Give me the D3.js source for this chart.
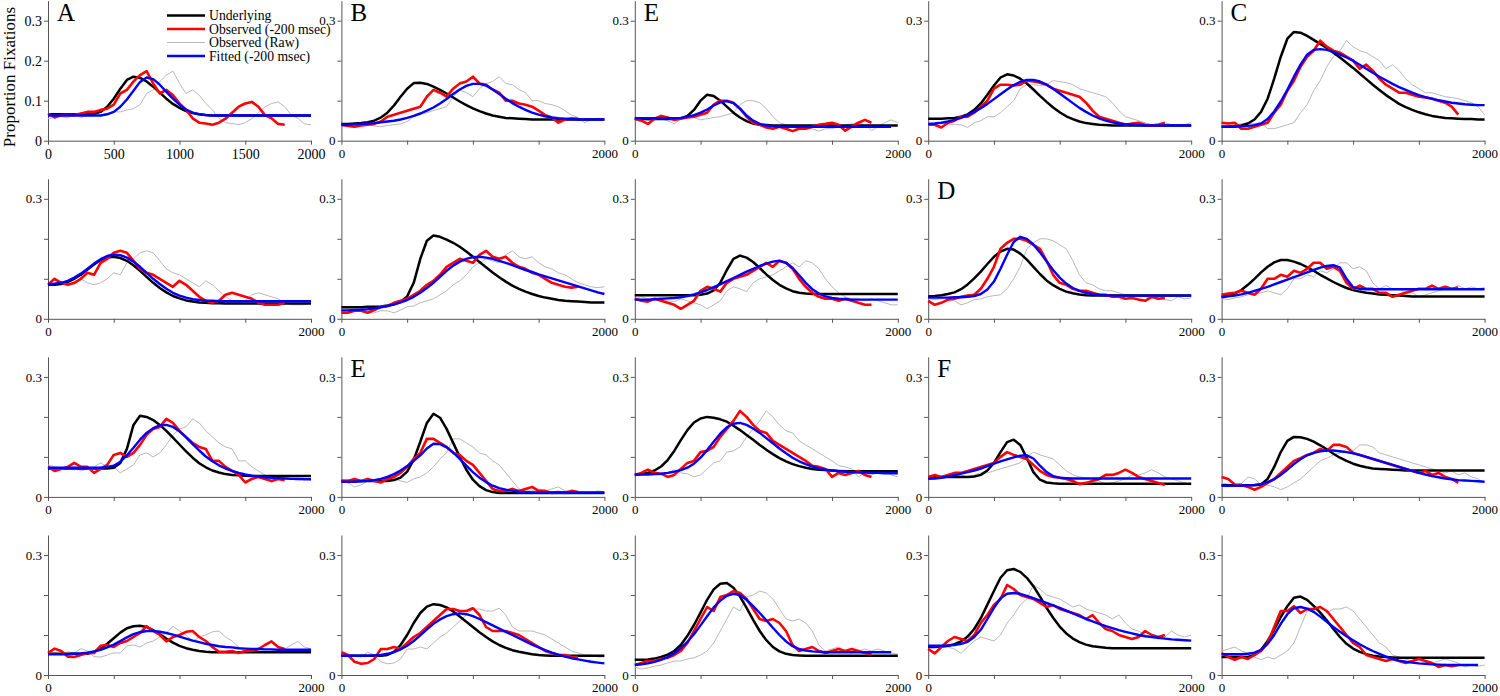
<!DOCTYPE html>
<html><head><meta charset="utf-8">
<script src="https://cdn.jsdelivr.net/npm/d3@7"></script>
<style>body{margin:0;background:#fff}svg{display:block}</style>
</head><body>
<svg id="chart" width="1500" height="696"></svg>
<script>
// ---- data ----
const timeStepMs = 50;        // sampling grid of every series (ms)
const shiftMs = 200;          // "Observed (-200 msec)" = raw shifted left by 200 ms
const xTickValues = [0, 500, 1000, 1500, 2000];
const yTickValues = [0, 0.1, 0.2, 0.3];
const panelLetters = ["A","B","E","","C", "","","","D","", "","E","","F","", "","","","",""];
const legendLabels = ["Underlying","Observed (-200 msec)","Observed (Raw)","Fitted (-200 msec)"];

const underlying = [
[.066,.066,.066,.066,.066,.066,.066,.067,.072,.085,.105,.13,.152,.16,.157,.148,.135,.12,.105,.092,.082,.074,.069,.066,.064,.063,.063,.063,.063,.063,.063,.063,.063,.063,.063,.063,.063,.063,.063,.063,.063],
[.042,.042,.043,.044,.046,.05,.058,.07,.088,.11,.13,.144,.145,.142,.135,.127,.118,.108,.098,.089,.081,.074,.068,.063,.06,.057,.056,.055,.054,.053,.053,.053,.053,.053,.053,.053,.053,.053,.053,.053,.053],
[.054,.054,.054,.054,.054,.054,.054,.056,.062,.077,.1,.115,.112,.1,.085,.07,.058,.049,.043,.04,.039,.038,.038,.038,.038,.038,.038,.038,.038,.038,.038,.038,.038,.038,.038,.038,.038,.038,.038,.038,.038],
[.055,.055,.055,.056,.057,.06,.066,.077,.093,.115,.138,.158,.166,.163,.155,.143,.128,.112,.097,.083,.071,.061,.054,.048,.044,.042,.04,.039,.038,.038,.038,.038,.038,.038,.038,.038,.038,.038,.038,.038,.038],
[.035,.035,.036,.038,.043,.053,.072,.105,.155,.21,.255,.272,.27,.262,.252,.242,.232,.22,.208,.195,.182,.168,.154,.14,.127,.114,.103,.092,.084,.077,.071,.066,.062,.059,.057,.056,.055,.054,.054,.053,.053],
[.085,.085,.087,.092,.1,.11,.123,.136,.147,.153,.155,.152,.145,.134,.12,.105,.09,.077,.066,.057,.051,.046,.043,.041,.04,.039,.039,.038,.038,.038,.038,.038,.038,.038,.038,.038,.038,.038,.038,.038,.038],
[.029,.029,.029,.029,.03,.03,.031,.033,.036,.042,.056,.09,.15,.195,.208,.205,.198,.19,.18,.168,.155,.142,.129,.116,.104,.093,.083,.075,.068,.062,.057,.053,.05,.047,.045,.044,.043,.042,.041,.041,.041],
[.059,.059,.059,.059,.059,.059,.059,.059,.059,.059,.06,.063,.071,.09,.122,.15,.158,.153,.142,.127,.111,.097,.085,.076,.069,.065,.063,.062,.062,.062,.062,.062,.062,.062,.062,.062,.062,.062,.062,.062,.062],
[.056,.057,.059,.062,.066,.074,.086,.101,.118,.137,.155,.168,.175,.173,.163,.148,.13,.112,.096,.084,.075,.068,.064,.061,.059,.058,.058,.058,.058,.058,.058,.058,.058,.058,.058,.058,.058,.058,.058,.058,.058],
[.055,.058,.063,.072,.085,.1,.116,.13,.141,.147,.147,.143,.137,.129,.12,.11,.101,.092,.084,.077,.072,.068,.065,.063,.061,.06,.059,.058,.057,.056,.056,.056,.056,.056,.056,.056,.056,.056,.056,.056,.056],
[.071,.071,.071,.071,.071,.071,.071,.071,.071,.071,.073,.085,.12,.18,.203,.2,.192,.18,.165,.148,.131,.114,.098,.084,.074,.066,.061,.057,.055,.054,.053,.052,.052,.052,.052,.052,.052,.052,.052,.052,.052],
[.04,.04,.04,.04,.04,.04,.04,.04,.042,.048,.063,.093,.138,.185,.208,.198,.17,.135,.1,.068,.043,.027,.017,.012,.01,.01,.01,.01,.01,.01,.01,.01,.01,.01,.01,.01,.01,.01,.01,.01,.01],
[.055,.057,.06,.066,.076,.092,.115,.142,.167,.186,.196,.2,.198,.194,.188,.178,.167,.155,.143,.13,.118,.107,.097,.089,.082,.077,.073,.07,.068,.067,.066,.065,.064,.064,.064,.064,.064,.064,.064,.064,.064],
[.05,.05,.05,.05,.05,.05,.05,.051,.055,.066,.085,.112,.137,.143,.13,.097,.062,.043,.036,.034,.033,.033,.033,.033,.033,.033,.033,.033,.033,.033,.033,.033,.033,.033,.033,.033,.033,.033,.033,.033,.033],
[.029,.029,.029,.029,.029,.029,.031,.045,.075,.112,.14,.15,.149,.145,.138,.129,.119,.108,.098,.09,.083,.078,.074,.071,.07,.069,.068,.067,.066,.066,.066,.066,.066,.066,.066,.066,.066,.066,.066,.066,.066],
[.053,.053,.053,.053,.053,.053,.053,.058,.066,.078,.092,.106,.117,.122,.123,.12,.112,.102,.091,.081,.073,.067,.063,.06,.058,.057,.057,.057,.057,.057,.057,.057,.057,.057,.057,.057,.057,.057,.057,.057,.057],
[.048,.048,.048,.048,.048,.048,.048,.05,.058,.075,.1,.13,.155,.171,.177,.175,.169,.159,.146,.133,.12,.107,.095,.084,.075,.068,.062,.058,.055,.052,.05,.049,.048,.048,.048,.048,.048,.048,.048,.048,.048],
[.038,.038,.039,.041,.045,.051,.06,.075,.098,.125,.156,.188,.214,.228,.23,.218,.196,.168,.138,.11,.087,.07,.059,.053,.05,.049,.048,.048,.048,.048,.048,.048,.048,.048,.048,.048,.048,.048,.048,.048,.048],
[.07,.07,.071,.073,.077,.084,.096,.115,.142,.176,.21,.243,.262,.265,.258,.243,.222,.196,.168,.143,.121,.104,.091,.082,.076,.072,.07,.068,.067,.067,.067,.067,.067,.067,.067,.067,.067,.067,.067,.067,.067],
[.045,.045,.045,.045,.045,.05,.063,.085,.113,.145,.172,.193,.196,.188,.173,.156,.137,.115,.095,.078,.066,.058,.052,.048,.046,.045,.044,.043,.043,.043,.043,.043,.043,.043,.043,.043,.043,.043,.043,.043,.043]
];

const fitted = [
[.063,.063,.063,.063,.063,.063,.063,.063,.063,.066,.072,.085,.103,.125,.147,.158,.154,.14,.122,.105,.09,.078,.07,.066,.064,.063,.063,.063,.063,.063,.063,.063,.063,.063,.063,.063,.063,.063,.063,.063,.063],
[.039,.04,.041,.042,.043,.044,.046,.048,.05,.053,.057,.062,.068,.075,.083,.093,.104,.117,.128,.137,.142,.142,.138,.128,.117,.105,.094,.085,.077,.07,.065,.061,.058,.056,.055,.054,.053,.053,.053,.053,.053],
[.056,.056,.056,.056,.056,.056,.056,.057,.06,.064,.07,.078,.088,.096,.099,.094,.08,.063,.05,.042,.038,.036,.035,.035,.035,.035,.035,.035,.035,.035,.035,.035,.035,.035,.035,.035,.035,.035,.035,.035],
[.042,.043,.045,.048,.052,.057,.064,.072,.081,.092,.104,.116,.128,.139,.147,.152,.152,.148,.14,.13,.118,.106,.094,.082,.072,.063,.056,.05,.046,.043,.041,.04,.039,.038,.038,.038,.038,.038,.038,.038,.038],
[.035,.035,.035,.036,.037,.039,.043,.054,.073,.098,.127,.16,.19,.215,.227,.229,.227,.222,.215,.208,.2,.19,.18,.17,.16,.151,.142,.134,.127,.12,.114,.109,.105,.101,.098,.095,.093,.091,.09,.089,.089],
[.087,.088,.09,.095,.103,.113,.125,.138,.149,.157,.16,.159,.153,.143,.13,.115,.1,.087,.075,.065,.058,.053,.049,.047,.045,.045,.044,.044,.044,.044,.044,.044,.044,.044,.044,.044,.044,.044,.044,.044,.044],
[.021,.021,.022,.023,.024,.026,.029,.032,.036,.041,.047,.055,.065,.077,.09,.105,.12,.133,.143,.15,.154,.155,.153,.15,.145,.14,.134,.128,.122,.117,.111,.106,.101,.096,.091,.086,.081,.076,.071,.066,.062],
[.048,.048,.048,.049,.05,.051,.052,.054,.057,.061,.066,.072,.079,.086,.094,.102,.11,.118,.125,.132,.138,.143,.145,.14,.127,.109,.09,.074,.063,.056,.052,.05,.049,.048,.048,.048,.048,.048,.048,.048,.048],
[.053,.053,.053,.053,.054,.054,.055,.057,.062,.073,.093,.125,.16,.192,.205,.2,.186,.166,.144,.122,.103,.088,.077,.07,.065,.062,.06,.059,.058,.058,.058,.058,.058,.058,.058,.058,.058,.058,.058,.058,.058],
[.054,.056,.058,.061,.065,.07,.075,.08,.086,.092,.098,.104,.11,.116,.122,.128,.132,.134,.128,.1,.079,.075,.074,.074,.074,.074,.074,.074,.074,.074,.074,.074,.074,.074,.074,.074,.074,.074,.074,.074,.074],
[.073,.073,.073,.073,.073,.073,.073,.073,.073,.075,.078,.088,.104,.123,.143,.16,.172,.179,.18,.175,.164,.149,.132,.116,.101,.089,.079,.071,.065,.06,.056,.053,.051,.049,.048,.047,.046,.045,.045,.044,.044],
[.038,.038,.038,.039,.04,.042,.045,.05,.057,.066,.077,.09,.104,.121,.133,.132,.124,.111,.095,.078,.062,.048,.037,.028,.022,.018,.015,.013,.012,.011,.011,.011,.011,.011,.011,.011,.011,.011,.011,.011,.011],
[.056,.056,.056,.057,.058,.06,.063,.067,.073,.083,.098,.117,.138,.158,.174,.183,.185,.18,.171,.16,.147,.134,.121,.109,.098,.089,.082,.076,.071,.068,.066,.064,.063,.062,.061,.061,.06,.06,.059,.059,.059],
[.045,.046,.048,.051,.054,.058,.062,.066,.071,.077,.083,.089,.094,.099,.103,.104,.096,.078,.062,.052,.048,.047,.046,.046,.046,.046,.046,.046,.046,.046,.046,.046,.046,.046,.046,.046,.046,.046,.046,.046,.046],
[.028,.028,.028,.028,.029,.03,.032,.037,.044,.055,.068,.082,.094,.104,.11,.114,.116,.116,.114,.112,.109,.105,.1,.095,.09,.085,.08,.075,.07,.065,.06,.056,.052,.049,.046,.044,.042,.041,.04,.039,.038],
[.052,.052,.052,.052,.053,.054,.056,.059,.063,.069,.076,.085,.094,.102,.107,.11,.11,.108,.105,.101,.096,.091,.086,.082,.078,.075,.072,.07,.069,.067,.066,.065,.065,.064,.064,.063,.063,.063,.063,.063,.063],
[.048,.048,.048,.048,.048,.049,.05,.053,.057,.064,.073,.085,.099,.114,.128,.139,.147,.152,.154,.152,.147,.14,.132,.124,.116,.108,.1,.092,.084,.076,.069,.062,.056,.051,.046,.042,.039,.036,.033,.031,.029],
[.025,.027,.029,.033,.038,.045,.054,.067,.083,.102,.124,.147,.169,.186,.198,.203,.2,.188,.172,.155,.137,.118,.1,.084,.072,.065,.061,.059,.058,.057,.057,.057,.057,.057,.057,.057,.057,.057,.057,.057],
[.073,.073,.073,.074,.075,.078,.083,.095,.113,.14,.168,.192,.203,.205,.203,.198,.192,.186,.18,.174,.168,.161,.154,.147,.14,.134,.128,.122,.117,.112,.108,.104,.1,.097,.095,.093,.091,.089,.088,.087,.086],
[.052,.052,.052,.052,.053,.056,.063,.078,.1,.128,.152,.167,.17,.166,.158,.146,.133,.12,.108,.097,.087,.077,.068,.06,.053,.046,.04,.036,.033,.031,.029,.028,.027,.026,.025,.025,.025,.025,.025,.025]
];

const observedRaw = [
[.055,.058,.06,.057,.068,.058,.064,.065,.064,.068,.072,.072,.077,.08,.09,.118,.127,.148,.164,.174,.143,.118,.127,.114,.093,.077,.056,.045,.043,.04,.045,.055,.07,.085,.093,.097,.085,.064,.056,.042,.04],
[.042,.04,.041,.04,.04,.037,.035,.038,.04,.042,.048,.06,.065,.07,.075,.08,.085,.11,.127,.12,.11,.13,.143,.148,.16,.143,.14,.128,.12,.1,.1,.093,.09,.085,.075,.064,.058,.045,.053,.056,.055],
[.052,.055,.05,.052,.055,.05,.042,.055,.062,.058,.052,.055,.058,.06,.065,.07,.09,.1,.1,.095,.08,.06,.045,.04,.033,.03,.035,.03,.024,.03,.03,.035,.04,.042,.045,.04,.025,.035,.045,.052,.045],
[.042,.04,.045,.04,.04,.04,.033,.045,.05,.06,.06,.07,.085,.1,.13,.14,.14,.138,.14,.15,.148,.145,.14,.13,.125,.12,.115,.11,.095,.075,.06,.055,.05,.045,.04,.043,.045,.04,.038,.04,.045],
[.04,.038,.04,.042,.045,.043,.045,.03,.03,.035,.04,.045,.07,.09,.125,.15,.185,.21,.225,.25,.235,.225,.22,.21,.2,.18,.19,.175,.155,.14,.13,.12,.12,.115,.11,.108,.105,.1,.095,.085,.065],
[.085,.09,.087,.09,.085,.1,.09,.085,.09,.1,.115,.11,.14,.15,.165,.17,.165,.145,.125,.115,.11,.1,.09,.08,.095,.085,.07,.055,.045,.04,.045,.06,.065,.06,.055,.05,.04,.035,.035,.035,.04],
[.028,.026,.028,.03,.015,.015,.02,.02,.015,.022,.03,.032,.04,.045,.05,.06,.07,.085,.095,.11,.13,.14,.15,.145,.14,.16,.17,.155,.15,.155,.14,.13,.125,.115,.11,.1,.09,.085,.08,.078,.08],
[.05,.055,.05,.048,.05,.045,.043,.05,.045,.04,.035,.025,.035,.045,.07,.08,.075,.068,.09,.1,.105,.11,.12,.13,.14,.13,.145,.14,.125,.1,.08,.065,.055,.05,.05,.045,.05,.045,.04,.035,.035],
[.05,.048,.05,.052,.045,.035,.04,.048,.05,.055,.058,.06,.075,.1,.13,.175,.19,.2,.2,.195,.185,.175,.145,.11,.09,.085,.075,.07,.07,.065,.06,.06,.055,.055,.05,.052,.048,.045,.055,.05,.052],
[.05,.048,.052,.055,.06,.063,.065,.07,.065,.06,.075,.1,.1,.11,.105,.12,.115,.125,.14,.14,.125,.13,.12,.09,.075,.083,.075,.075,.065,.065,.055,.06,.065,.07,.075,.075,.083,.075,.08,.075,.078],
[.08,.075,.072,.07,.075,.065,.07,.075,.085,.075,.075,.06,.07,.08,.105,.11,.1,.11,.13,.155,.17,.175,.195,.185,.165,.15,.135,.125,.12,.09,.09,.075,.065,.055,.036,.045,.05,.045,.04,.045,.042],
[.04,.035,.025,.03,.04,.04,.045,.04,.045,.04,.036,.045,.05,.06,.075,.095,.11,.145,.145,.135,.125,.11,.105,.09,.08,.06,.04,.02,.015,.015,.02,.015,.02,.025,.015,.015,.01,.012,.01,.015,.012],
[.058,.06,.057,.056,.055,.06,.068,.06,.058,.05,.055,.07,.085,.09,.112,.115,.125,.15,.17,.19,.215,.2,.18,.165,.16,.14,.13,.12,.11,.1,.09,.078,.075,.07,.05,.06,.055,.06,.065,.055,.05],
[.05,.048,.05,.052,.05,.055,.05,.055,.06,.06,.065,.07,.075,.08,.085,.1,.112,.105,.1,.095,.08,.065,.055,.05,.048,.045,.04,.032,.035,.04,.045,.055,.055,.06,.068,.06,.05,.045,.04,.035,.03],
[.035,.032,.03,.033,.05,.045,.031,.03,.025,.018,.025,.035,.045,.06,.075,.09,.097,.105,.11,.12,.115,.13,.13,.125,.11,.105,.1,.095,.09,.085,.08,.075,.07,.065,.06,.065,.055,.06,.05,.045,.035],
[.052,.055,.05,.058,.055,.066,.06,.046,.045,.05,.055,.055,.073,.075,.07,.08,.085,.095,.105,.122,.11,.1,.084,.095,.1,.108,.11,.095,.085,.07,.058,.058,.06,.055,.06,.06,.065,.075,.084,.07,.065],
[.05,.048,.05,.045,.057,.05,.033,.028,.03,.04,.065,.065,.07,.065,.08,.095,.105,.12,.135,.15,.165,.165,.16,.16,.167,.15,.12,.11,.11,.11,.105,.1,.09,.08,.07,.06,.055,.05,.05,.045,.045],
[.02,.015,.018,.022,.025,.03,.035,.035,.04,.043,.05,.06,.08,.11,.14,.17,.16,.195,.2,.21,.205,.19,.165,.14,.135,.14,.13,.11,.075,.06,.065,.07,.06,.055,.06,.065,.06,.065,.06,.055,.052],
[.07,.072,.068,.07,.065,.054,.07,.085,.095,.09,.085,.1,.13,.15,.175,.19,.225,.215,.2,.195,.19,.18,.17,.175,.165,.16,.155,.15,.14,.15,.13,.115,.11,.1,.095,.09,.095,.11,.1,.095,.1],
[.06,.065,.07,.06,.055,.045,.038,.045,.04,.05,.06,.08,.12,.16,.16,.172,.155,.165,.165,.17,.16,.14,.12,.1,.08,.07,.05,.045,.04,.035,.04,.035,.03,.035,.04,.035,.03,.02,.025,.022,.025]
];

// ---- layout ----
const FONT = "'Liberation Serif','Times New Roman',serif";
const svg = d3.select("#chart");
const W = 263, H = 140;
const left0 = 48, colStep = 293.4, top0 = 0.7, rowStep = 178.1;
const x = d3.scaleLinear().domain([0, 2000]).range([0, W]);
const y = d3.scaleLinear().domain([0, 0.35]).range([H, 0]);
const line = d3.line().x(d => x(d.t)).y(d => y(d.v));

const colors = {under: "#000000", obs: "#ff0000", raw: "#b9b9b9", fit: "#0000ff"};

for (let i = 0; i < 20; i++) {
  const r = Math.floor(i / 5), c = i % 5;
  const g = svg.append("g").attr("transform", `translate(${left0 + c * colStep},${top0 + r * rowStep})`);
  const first = i === 0;
  const fs = first ? 14 : 13;

  const ya = d3.axisLeft(y).tickValues(yTickValues).tickSize(4).tickSizeOuter(0).tickPadding(2)
    .tickFormat(d => d === 0 ? "0" : (first || Math.abs(d - 0.3) < 1e-9) ? d3.format(".1f")(d) : "");
  const xa = d3.axisBottom(x).tickValues(xTickValues).tickSize(4).tickSizeOuter(0).tickPadding(4)
    .tickFormat(d => (first || d === 0 || d === 2000) ? String(d) : "");

  const gy = g.append("g").call(ya);
  const gx = g.append("g").attr("transform", `translate(0,${H})`).call(xa);
  [gx, gy].forEach(ax => {
    ax.select(".domain").attr("stroke", "#555").attr("stroke-width", 1);
    ax.selectAll(".tick line").attr("stroke", "#555");
    ax.selectAll(".tick text").attr("fill", "#000").style("font-family", FONT).style("font-size", fs + "px");
  });

  const raw = observedRaw[i].map((v, j) => ({t: j * timeStepMs, v}));
  const obs = observedRaw[i].map((v, j) => ({t: j * timeStepMs - shiftMs, v})).filter(d => d.t >= 0);
  const und = underlying[i].map((v, j) => ({t: j * timeStepMs, v}));
  const fit = fitted[i].map((v, j) => ({t: j * timeStepMs, v}));

  g.append("path").datum(raw).attr("d", line).attr("fill", "none").attr("stroke", colors.raw).attr("stroke-width", 1);
  g.append("path").datum(und).attr("d", line).attr("fill", "none").attr("stroke", colors.under).attr("stroke-width", 2.5).attr("stroke-linejoin", "round");
  g.append("path").datum(obs).attr("d", line).attr("fill", "none").attr("stroke", colors.obs).attr("stroke-width", 2.6).attr("stroke-linejoin", "round");
  g.append("path").datum(fit).attr("d", line).attr("fill", "none").attr("stroke", colors.fit).attr("stroke-width", 2.4).attr("stroke-linejoin", "round");

  if (panelLetters[i]) {
    g.append("text").attr("x", 9).attr("y", 20).text(panelLetters[i])
      .style("font-family", FONT).style("font-size", "25px").attr("fill", "#000");
  }
}

// y title
svg.append("text").attr("transform", "translate(15,77) rotate(-90)").attr("text-anchor", "middle")
  .style("font-family", FONT).style("font-size", "17px").text("Proportion Fixations");

// legend
const legendColors = [colors.under, colors.obs, colors.raw, colors.fit];
const legendWidths = [2.5, 2.6, 1, 2.4];
const lg = svg.append("g").attr("transform", "translate(167,15.5)");
legendLabels.forEach((lab, k) => {
  lg.append("line").attr("x1", 0).attr("x2", 38).attr("y1", k * 13.5).attr("y2", k * 13.5)
    .attr("stroke", legendColors[k]).attr("stroke-width", legendWidths[k]);
  lg.append("text").attr("x", 42).attr("y", k * 13.5).attr("dy", "0.35em").text(lab)
    .style("font-family", FONT).style("font-size", "13.7px").attr("fill", "#000");
});
</script>
</body></html>
